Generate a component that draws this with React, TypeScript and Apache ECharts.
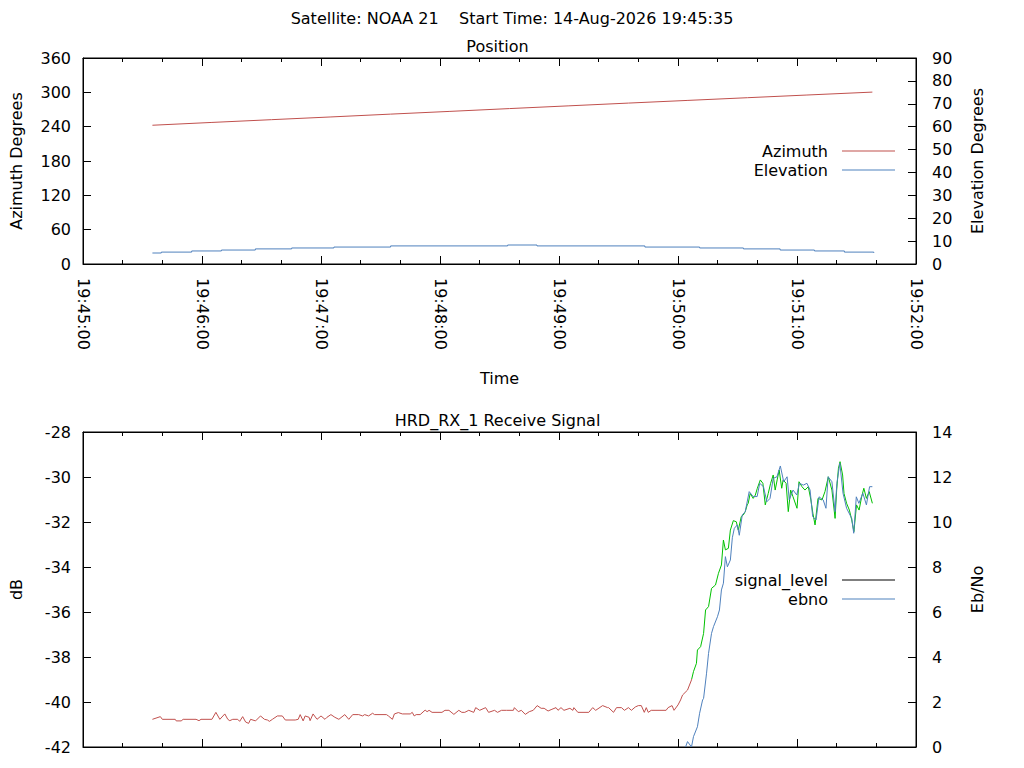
import { useEffect, useRef } from 'react';
import * as echarts from 'echarts';

// time axis: seconds after 19:45:00
const timeLabels = ['19:45:00', '19:46:00', '19:47:00', '19:48:00', '19:49:00', '19:50:00', '19:51:00', '19:52:00'];

const azimuth: [number, number][] = [
    [35, 242.5], [65, 247.4], [95, 252.2], [125, 257.0], [155, 261.9], [185, 266.7], [215, 271.6],
    [245, 276.4], [275, 281.2], [305, 285.9], [335, 290.6], [365, 295.3], [398, 300.4]
];

const elevation: [number, number][] = [
    [35, 4.8], [39.5, 5.2], [54.8, 5.7], [69.8, 6.1], [86.9, 6.6], [105.2, 7.0], [126.5, 7.4], [155.1, 7.9],
    [214.1, 8.3], [228.9, 7.9], [283.3, 7.4], [310.9, 7.0], [333, 6.6], [351.5, 6.1], [368.8, 5.7],
    [383.9, 5.2], [398.7, 4.8]
];

const signalLevel: [number, number][] = [
    [35, -40.77], [39, -40.65], [40, -40.77], [46.5, -40.77], [47, -40.84], [49.5, -40.84], [50.5, -40.77],
    [57, -40.77], [58.5, -40.83], [59.5, -40.77], [65, -40.77], [67, -40.46], [69, -40.77], [71.5, -40.53],
    [73, -40.77], [74, -40.83], [75.5, -40.77], [78, -40.77], [79, -40.86], [80.5, -40.65], [82, -40.89],
    [83.5, -40.95], [84.5, -40.77], [87, -40.84], [89.5, -40.62], [91.5, -40.77], [93, -40.80], [94, -40.86],
    [95.5, -40.77], [98, -40.62], [100.5, -40.62], [102, -40.80], [107, -40.80], [108.5, -40.77], [109.5, -40.56],
    [111, -40.84], [112, -40.62], [114, -40.68], [114.5, -40.83], [116, -40.53], [118, -40.77], [120, -40.62],
    [122, -40.77], [123, -40.68], [125, -40.56], [127, -40.68], [129, -40.77], [132, -40.56], [134, -40.77],
    [136, -40.56], [139, -40.56], [141, -40.62], [142, -40.56], [144, -40.62], [146, -40.50], [147, -40.56],
    [153, -40.56], [154, -40.62], [156, -40.77], [157, -40.53], [159, -40.47], [161, -40.53], [165, -40.53],
    [166, -40.46], [167, -40.62], [168, -40.56], [170, -40.56],
    [172.5, -40.36], [173.5, -40.43], [174.5, -40.37], [176, -40.46], [181, -40.46], [182.5, -40.37], [184.5, -40.37],
    [187, -40.55], [189.5, -40.37], [191, -40.46], [192.5, -40.46], [194.5, -40.37], [197, -40.46], [198, -40.25],
    [200, -40.37], [203, -40.25], [204.5, -40.46], [207.5, -40.37], [209, -40.46], [211, -40.37], [213.5, -40.37],
    [217, -40.37], [217.5, -40.25], [219.5, -40.43], [221, -40.37], [223, -40.55], [225, -40.43], [227, -40.37],
    [229, -40.16], [231, -40.28], [232.5, -40.28], [234.5, -40.40], [236, -40.34], [238.5, -40.25], [239.5, -40.37],
    [241, -40.25], [242.5, -40.37], [245.5, -40.28], [247, -40.37], [247.5, -40.25], [249.5, -40.46], [255, -40.46],
    [257, -40.25], [258.5, -40.37], [262, -40.16], [264.5, -40.25], [265, -40.25], [267.5, -40.46], [269, -40.25],
    [271.5, -40.25], [273, -40.37], [275, -40.25], [276.5, -40.37], [278.5, -40.22], [280, -40.16], [281.5, -40.16],
    [283, -40.46], [284, -40.25], [285, -40.46], [286.5, -40.37], [294, -40.37], [295, -40.25], [297, -40.16],
    [298, -40.37], [300, -40.13],
    [301.3, -39.91], [302.3, -39.69], [304.8, -39.47], [306.8, -39.02], [307.8, -38.65], [309.3, -38.28],
    [309.8, -37.69], [311.4, -37.54], [312.9, -36.95], [313.9, -35.91], [315.4, -35.76], [316.9, -34.95],
    [318.9, -34.80], [320.4, -34.28], [321.9, -33.91], [322.9, -32.80], [323.9, -33.24], [325.4, -33.17],
    [326.4, -32.36], [327.9, -31.94], [329.4, -31.99], [330.4, -32.36], [331.9, -31.76], [332.9, -31.69],
    [333.9, -31.54], [334.9, -31.24], [335.4, -31.17], [336.4, -30.73], [337.9, -30.95], [339, -30.80],
    [340, -30.50], [341.5, -30.13], [342.8, -30.28], [344, -31.24], [345.5, -30.73], [346.7, -30.28],
    [348, -29.91], [349, -30.58], [350, -30.13], [351, -29.69], [352.3, -30.50], [353, -30.13], [354.5, -30.28],
    [355.6, -31.54], [356.8, -30.58], [358, -30.88], [360, -31.39], [361, -30.21], [362.5, -30.43], [364, -30.58],
    [365.7, -30.43], [367, -31.02], [368, -31.61], [369.1, -32.13], [370.6, -30.95], [372.6, -31.02],
    [374.1, -30.65], [375.8, -29.99], [377.6, -30.58], [379.2, -31.84], [380, -30.58], [380.9, -29.61],
    [381.7, -29.32], [383, -29.91], [383.7, -30.73], [385, -31.17], [386.4, -31.47], [387.6, -31.91],
    [388.7, -32.43], [390, -31.24], [391.3, -31.47], [392.6, -30.88], [393.7, -30.50], [395, -30.95],
    [396.4, -30.65], [398, -31.17]
];

const ebno: [number, number][] = [
    [303.8, 0], [304.8, 0.24], [306.8, 0], [307.8, 0.46], [309.8, 0.90], [310.9, 1.50], [312.4, 2.09],
    [312.9, 2.16], [314.4, 3.28], [315.4, 4.16], [316.9, 5.05], [317.9, 5.35], [319.9, 5.79], [320.9, 6.09],
    [321.9, 6.98], [322.9, 7.28], [323.9, 8.46], [324.9, 8.01], [326.4, 8.31], [327.4, 9.3], [328.4, 9.72],
    [329.9, 9.87], [330.9, 9.41], [332.4, 10.31], [333.9, 10.46], [335.9, 11.35], [337.9, 11.13], [339.9, 11.13],
    [341.2, 11.72], [343.1, 11.57], [344.8, 10.90], [346.4, 11.05], [348, 11.94], [349.9, 12.01], [351.6, 12.49],
    [353.3, 11.79], [355, 12.01], [356.1, 10.98], [358, 11.42], [359.9, 11.20], [361.2, 11.72], [363.2, 11.64],
    [365, 11.72], [366.6, 11.42], [367.9, 10.24], [369.6, 10.09], [371.1, 11.12], [373.2, 10.98], [374.6, 10.61],
    [375.7, 12.01], [377.6, 11.79], [379.2, 10.46], [380.1, 11.72], [381.6, 12.61], [383.2, 11.28], [385, 10.61],
    [387.6, 10.16], [388.6, 9.50], [389.9, 11.12], [391.2, 10.83], [393.2, 11.28], [395, 10.76], [396.6, 11.57],
    [398, 11.57]
];

const FONT = "'DejaVu Sans', sans-serif";
const FS = 16;
const RED = '#c0504d';
const BLUE = '#4f81bd';
const GREEN = '#00c000';

export default function App() {
    const chartRef = useRef<HTMLDivElement>(null);

    useEffect(() => {
        if (!chartRef.current) return;
        const chart = echarts.init(chartRef.current, null, { renderer: 'svg' });

        const text = { fontFamily: FONT, fontSize: FS, color: '#000' };
        const black = { color: '#000', width: 1 };

        const timeAxis = (gridIndex: number, position: 'top' | 'bottom', showLabel: boolean, name = '') => ({
            type: 'value' as const,
            gridIndex,
            position,
            min: 0,
            max: 420,
            interval: 60,
            name,
            nameLocation: 'middle' as const,
            nameGap: 106,
            nameTextStyle: text,
            axisLine: { show: true, onZero: false, lineStyle: black },
            axisTick: { show: true, inside: true, length: 8, lineStyle: black },
            minorTick: { show: true, splitNumber: 3, length: 4, lineStyle: black },
            axisLabel: {
                show: showLabel,
                rotate: -90,
                margin: 14,
                formatter: (v: number) => timeLabels[Math.round(v / 60)],
                ...text
            },
            splitLine: { show: false }
        });

        const valueAxis = (gridIndex: number, position: 'left' | 'right', min: number, max: number, interval: number, name: string) => ({
            type: 'value' as const,
            gridIndex,
            position,
            min,
            max,
            interval,
            name,
            nameLocation: 'middle' as const,
            nameRotate: 90,
            nameGap: position === 'left' ? 59 : 53,
            nameTextStyle: text,
            axisLine: { show: true, onZero: false, lineStyle: black },
            axisTick: { show: true, inside: true, length: 8, lineStyle: black },
            axisLabel: { margin: position === 'left' ? 12 : 16, ...text },
            splitLine: { show: false }
        });

        // one legend per entry, so each sits right where the reference has it
        const legendAt = (top: number, item: any) => ({
            show: true,
            data: [item],
            right: 129,
            top,
            orient: 'vertical' as const,
            align: 'right' as const,
            padding: 0,
            icon: 'rect',
            itemWidth: 53,
            itemHeight: 1,
            selectedMode: false,
            textStyle: { ...text, padding: [0, 9, 0, 0] }
        });

        const option: any = {
            backgroundColor: '#ffffff',
            animation: false,
            graphic: [
                {
                    type: 'text', x: 512, y: 18,
                    style: { text: 'Satellite: NOAA 21\u00a0\u00a0\u00a0\u00a0Start Time: 14-Aug-2026 19:45:35', fontFamily: FONT, fontSize: FS, fill: '#000', textAlign: 'center', textVerticalAlign: 'middle' }
                },
                {
                    type: 'text', x: 497.5, y: 46,
                    style: { text: 'Position', fontFamily: FONT, fontSize: FS, fill: '#000', textAlign: 'center', textVerticalAlign: 'middle' }
                },
                {
                    type: 'text', x: 497.5, y: 420,
                    style: { text: 'HRD_RX_1 Receive Signal', fontFamily: FONT, fontSize: FS, fill: '#000', textAlign: 'center', textVerticalAlign: 'middle' }
                }
            ],
            grid: [
                { left: 79, right: 108, top: 58, height: 206, show: true, borderColor: '#000', borderWidth: 1, backgroundColor: 'transparent', containLabel: false },
                { left: 79, right: 108, top: 432, height: 315, show: true, borderColor: '#000', borderWidth: 1, backgroundColor: 'transparent', containLabel: false }
            ],
            xAxis: [
                timeAxis(0, 'bottom', true, 'Time'),
                timeAxis(0, 'top', false),
                timeAxis(1, 'bottom', false),
                timeAxis(1, 'top', false)
            ],
            yAxis: [
                valueAxis(0, 'left', 0, 360, 60, 'Azimuth Degrees'),
                valueAxis(0, 'right', 0, 90, 10, 'Elevation Degrees'),
                valueAxis(1, 'left', -42, -28, 2, 'dB'),
                valueAxis(1, 'right', 0, 14, 2, 'Eb/No')
            ],
            legend: [
                legendAt(143, 'Azimuth'),
                legendAt(162, 'Elevation'),
                legendAt(572, { name: 'signal_level', itemStyle: { color: '#000' } }),
                legendAt(591, 'ebno')
            ],
            visualMap: {
                type: 'piecewise',
                show: false,
                seriesIndex: 2,
                dimension: 1,
                pieces: [
                    { gte: -50, lt: -39, color: RED },
                    { gte: -39, lte: -20, color: GREEN }
                ]
            },
            series: [
                {
                    name: 'Azimuth', type: 'line', xAxisIndex: 0, yAxisIndex: 0, data: azimuth,
                    symbol: 'none', color: RED, lineStyle: { color: RED, width: 1 }
                },
                {
                    name: 'Elevation', type: 'line', xAxisIndex: 0, yAxisIndex: 1, data: elevation, step: 'end',
                    symbol: 'none', color: BLUE, lineStyle: { color: BLUE, width: 1 }
                },
                {
                    name: 'signal_level', type: 'line', xAxisIndex: 2, yAxisIndex: 2, data: signalLevel,
                    symbol: 'none', color: '#000', lineStyle: { width: 1 }
                },
                {
                    name: 'ebno', type: 'line', xAxisIndex: 2, yAxisIndex: 3, data: ebno,
                    symbol: 'none', color: BLUE, lineStyle: { color: BLUE, width: 1 }
                }
            ]
        };

        chart.setOption(option);

        return () => {
            chart.dispose();
        };
    }, []);

    return (
        <div
            ref={chartRef}
            style={{ position: 'absolute', left: 0, top: 0, width: 1024, height: 768, background: '#fff' }}
        />
    );
}
